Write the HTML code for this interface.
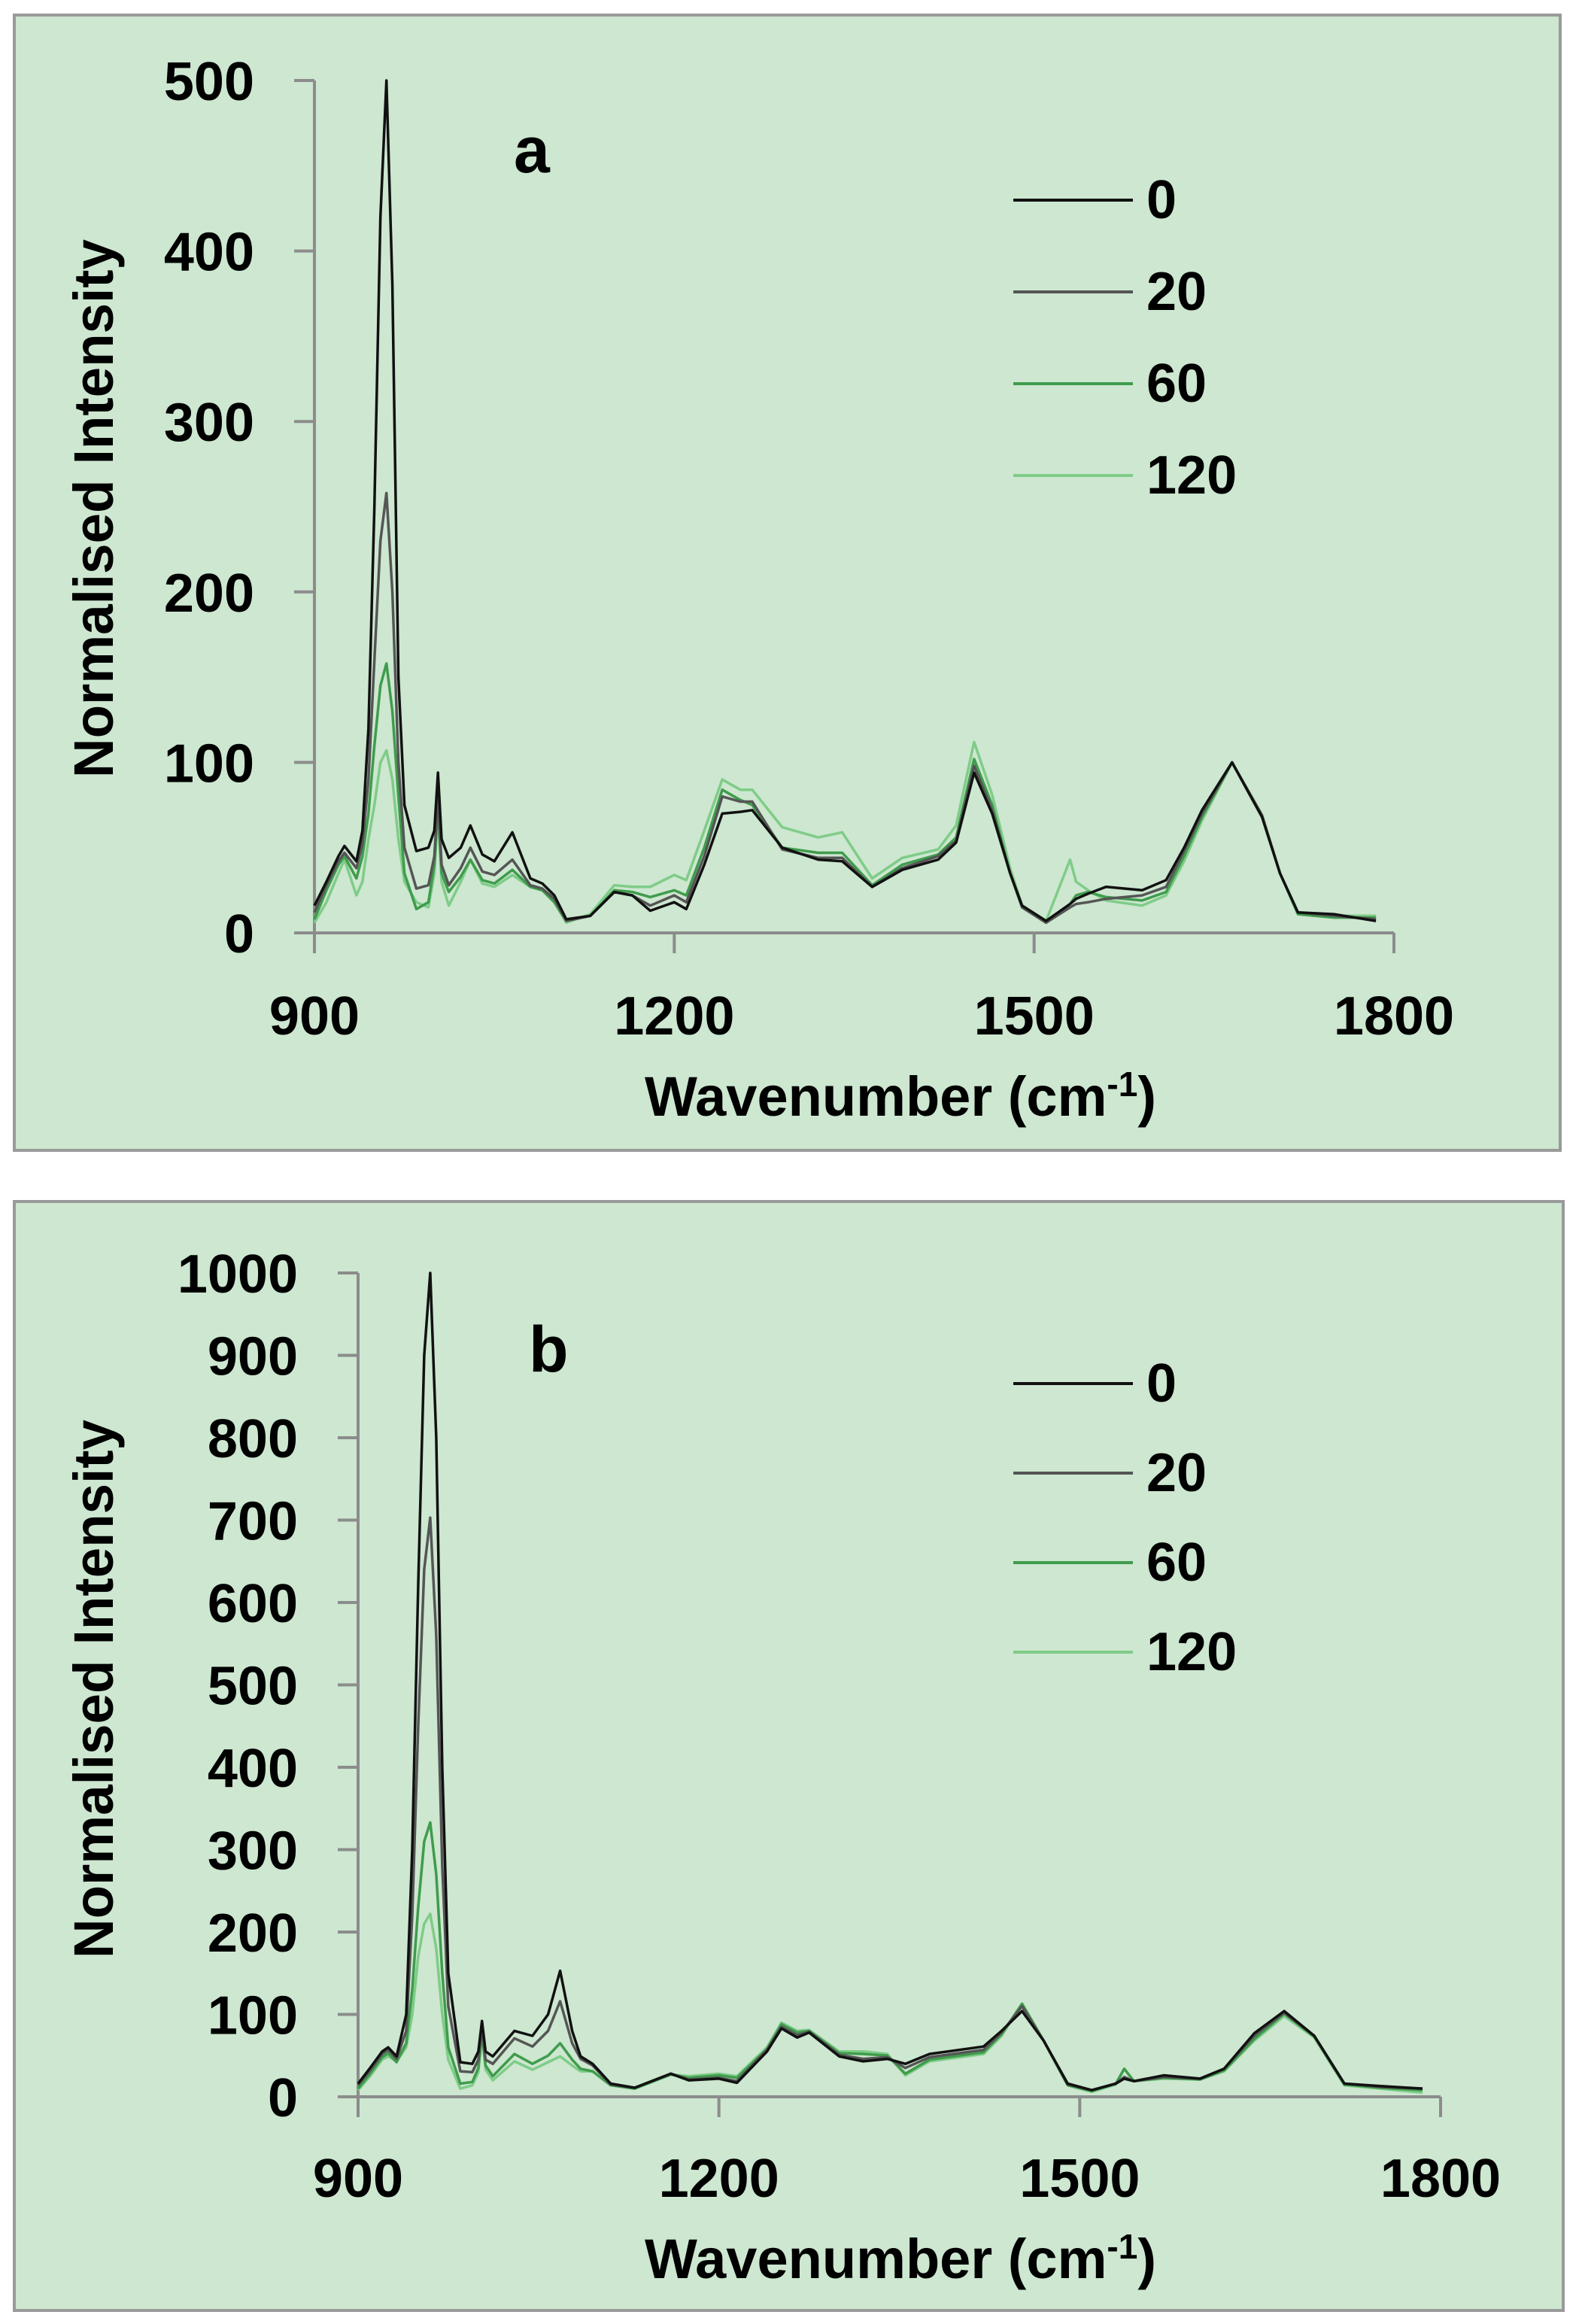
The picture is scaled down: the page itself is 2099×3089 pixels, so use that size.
<!DOCTYPE html>
<html><head><meta charset="utf-8"><style>
html,body{margin:0;padding:0;background:#fff;}
svg{display:block;}
text{font-family:"Liberation Sans",sans-serif;font-weight:bold;fill:#000;}
</style></head><body>
<svg id="fig" width="2099" height="3089" viewBox="0 0 2099 3089" xmlns="http://www.w3.org/2000/svg">
<rect x="19" y="20" width="2055" height="1509" fill="#cde7d0" stroke="#9a9a9a" stroke-width="4"/>
<rect x="19" y="1597" width="2059" height="1474" fill="#cde7d0" stroke="#9a9a9a" stroke-width="4"/>
<g id="chartA"></g>
<g id="chartB"></g>
</svg>
<script>
// ---- Chart a data ----
const xA = [900,910,920,925,935,940,945,950,955,960,965,970,975,985,995,1000,1003,1006,1012,1022,1030,1040,1050,1065,1080,1090,1100,1110,1130,1150,1165,1180,1200,1210,1225,1240,1255,1265,1290,1320,1340,1365,1390,1420,1435,1450,1465,1480,1490,1510,1530,1535,1545,1560,1590,1610,1625,1640,1665,1690,1705,1720,1750,1785];
const a0 = [16,30,45,51,42,60,120,250,420,500,380,150,75,48,50,60,94,55,44,50,63,46,42,59,32,29,22,8,10,24,22,13,18,14,40,70,71,72,50,43,42,27,37,43,53,94,70,35,16,7,17,20,23,27,25,31,50,72,100,68,35,12,11,7];
const a20 = [12,28,42,47,38,52,90,160,230,258,200,100,50,26,28,45,80,40,28,38,50,36,34,43,28,26,20,7,10,24,22,16,22,18,45,80,77,77,49,44,44,27,38,45,54,98,72,35,15,6,15,17,18,20,22,27,48,70,100,69,35,12,10,8];
const a60 = [8,25,40,45,32,45,70,110,145,158,130,80,35,14,18,40,75,35,24,33,43,31,29,37,27,25,18,7,10,25,24,21,25,22,50,84,78,75,50,47,47,28,40,46,56,102,75,35,15,6,17,22,24,21,19,24,45,68,100,69,35,11,9,9];
const a120 = [6,18,35,43,22,30,55,75,100,107,90,55,30,18,15,35,70,30,16,30,43,29,27,34,27,25,18,6,11,28,27,27,34,31,60,90,84,84,62,56,59,32,44,49,63,112,81,38,16,7,43,30,25,19,16,22,42,66,100,69,35,11,10,10];
const yTicksA = [0,100,200,300,400,500];
// ---- Chart b data ----
const xB = [900,910,920,925,932,940,945,950,955,960,965,970,975,985,995,1000,1003,1006,1012,1030,1045,1058,1068,1078,1085,1095,1110,1130,1160,1175,1200,1215,1240,1252,1265,1275,1300,1320,1340,1355,1375,1420,1435,1452,1470,1490,1510,1530,1537,1545,1570,1600,1620,1645,1670,1695,1720,1750,1785];
const b0 = [16,35,55,60,49,100,300,620,900,1000,800,400,150,42,40,55,92,55,49,80,74,100,153,80,49,40,16,11,28,20,22,17,55,83,72,78,49,43,46,40,52,61,80,104,68,16,8,16,22,19,26,22,34,77,104,74,16,13,10];
const b20 = [14,32,52,57,46,80,220,450,640,703,560,280,110,31,30,45,83,45,40,71,61,80,116,65,46,38,15,11,28,21,23,19,57,85,75,79,51,46,48,35,48,57,78,110,68,15,8,16,24,19,24,22,34,74,102,74,16,12,10];
const b60 = [10,28,48,53,42,65,130,230,310,333,270,150,60,16,18,35,77,38,25,52,40,50,65,45,34,31,14,10,27,23,26,23,58,88,78,80,53,52,50,28,45,54,76,113,68,14,7,16,34,19,23,21,32,70,101,73,15,11,8];
const b120 = [8,25,45,49,43,60,100,170,210,222,180,100,45,10,14,30,75,33,20,43,33,42,49,38,31,31,14,11,27,25,28,25,60,90,80,81,55,55,52,26,43,52,74,113,68,14,6,15,34,19,22,21,31,68,98,72,14,10,5];
const yTicksB = [0,100,200,300,400,500,600,700,800,900,1000];
const xTicks = [900,1200,1500,1800];
const seriesNames = ["0","20","60","120"];
const seriesColors = ["#111111","#555555","#3f9c4c","#7fcc88"];

const NS = "http://www.w3.org/2000/svg";
function mk(parent, tag, attrs){
  const e = document.createElementNS(NS, tag);
  for (const k in attrs) e.setAttribute(k, attrs[k]);
  parent.appendChild(e);
  return e;
}
function drawChart(g, cfg){
  const sx = v => cfg.x0 + (v-900)/(1800-900)*(cfg.x1-cfg.x0);
  const sy = v => cfg.y0 - v/cfg.ymax*(cfg.y0-cfg.yTop);
  // axes
  const ax = mk(g,'line',{x1:sx(900),y1:sy(0),x2:sx(1800),y2:sy(0),stroke:'#8c8c8c','stroke-width':4});
  
  
  const ay = mk(g,'line',{x1:sx(900),y1:sy(0),x2:sx(900),y2:sy(cfg.ymax),stroke:'#8c8c8c','stroke-width':4});
  
  
  cfg.yt.forEach(v=>{
    const t = mk(g,'line',{x1:sx(900)-27,y1:sy(v),x2:sx(900),y2:sy(v),stroke:'#8c8c8c','stroke-width':4});
    
    
    const l = mk(g,'text',{x:cfg.ylabRight,y:sy(v)+26,'font-size':72,'text-anchor':'end'});
    l.textContent = v;
    
    
  });
  xTicks.forEach(v=>{
    const t = mk(g,'line',{x1:sx(v),y1:sy(0),x2:sx(v),y2:sy(0)+27,stroke:'#8c8c8c','stroke-width':4});
    
    
    const l = mk(g,'text',{x:sx(v),y:cfg.xlabBase,'font-size':72,'text-anchor':'middle'});
    l.textContent = v;
    
    
  });
  // series (draw light first so dark on top)
  for (let i=cfg.series.length-1;i>=0;i--){
    const ys = cfg.series[i];
    const pts = cfg.xs.map((x,j)=>sx(x).toFixed(1)+','+sy(ys[j]).toFixed(1)).join(' ');
    const p = mk(g,'polyline',{points:pts,fill:'none',stroke:seriesColors[i],'stroke-width':3.5,'stroke-linejoin':'round'});
    
    
  }
  // legend
  cfg.legY.forEach((ly,i)=>{
    const l = mk(g,'line',{x1:1347,y1:ly,x2:1506,y2:ly,stroke:seriesColors[i],'stroke-width':4});
    
    
    const t = mk(g,'text',{x:1524,y:ly+24,'font-size':72});
    t.textContent = seriesNames[i];
    
    
  });
  // panel letter
  const pl = mk(g,'text',{x:cfg.letX,y:cfg.letY,'font-size':86});
  pl.textContent = cfg.letter;
  
  
  // axis titles
  const xt = mk(g,'text',{x:857,y:cfg.xtBase,'font-size':74,textLength:680,lengthAdjust:'spacingAndGlyphs'});
  xt.innerHTML = 'Wavenumber (cm<tspan dy="-26" font-size="46">-1</tspan><tspan dy="26">)</tspan>';
  
  
  const yt = mk(g,'text',{x:0,y:0,'font-size':74,'text-anchor':'middle',textLength:716,lengthAdjust:'spacingAndGlyphs',transform:'translate(150,'+cfg.ytCenter+') rotate(-90)'});
  yt.textContent = 'Normalised Intensity';
  
  
}
drawChart(document.getElementById('chartA'),{id:'a',x0:418,x1:1853,y0:1240,yTop:107,ymax:500,yt:yTicksA,xs:xA,series:[a0,a20,a60,a120],
  ylabRight:338,xlabBase:1375,legY:[266,388,510,632],letter:'a',letX:683,letY:229,xtBase:1483,ytCenter:676});
drawChart(document.getElementById('chartB'),{id:'b',x0:476,x1:1915,y0:2787,yTop:1692,ymax:1000,yt:yTicksB,xs:xB,series:[b0,b20,b60,b120],
  ylabRight:396,xlabBase:2920,legY:[1839,1958,2077,2196],letter:'b',letX:703,letY:1823,xtBase:3028,ytCenter:2245});
</script>
</body></html>
